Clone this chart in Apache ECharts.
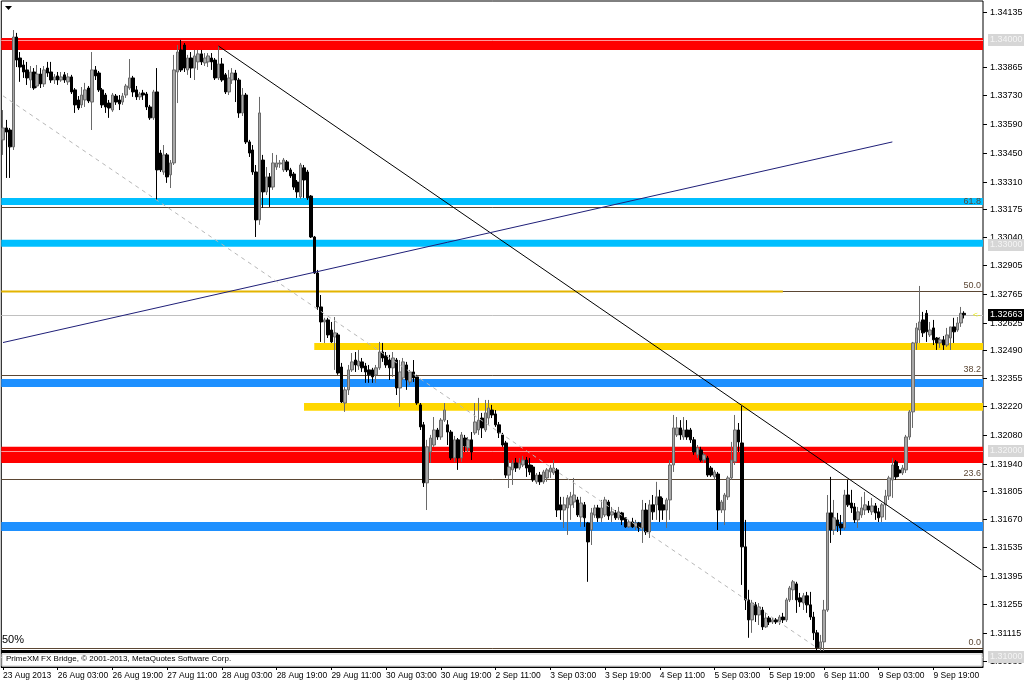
<!DOCTYPE html>
<html><head><meta charset="utf-8">
<script src="https://cdn.jsdelivr.net/npm/echarts@6/dist/echarts.min.js"></script>
<style>html,body{margin:0;padding:0;background:#fff}#c{width:1024px;height:682px}</style>
</head><body><div id="c"></div>
<script>
// ---- hourly candles (H1) ----
const openP = [
1.33513,1.33571,1.33561,1.33479,1.34013,1.33911,1.33877,1.33853,1.33804,1.33843,
1.33775,1.33833,1.33785,1.33862,1.33843,1.33804,1.33824,1.33804,1.33829,1.33795,
1.33819,1.33756,1.33707,1.33683,1.33707,1.33765,1.33697,1.33853,1.33838,1.33756,
1.33731,1.33692,1.33658,1.33726,1.33707,1.33697,1.33731,1.33765,1.33814,1.33756,
1.33722,1.33741,1.33736,1.33673,1.33620,1.33746,1.33449,1.33357,1.33440,1.33343,
1.33401,1.33843,1.33950,1.33974,1.33853,1.33911,1.33862,1.33892,1.33931,1.33887,
1.33892,1.33911,1.33901,1.33814,1.33882,1.33829,1.33746,1.33804,1.33838,1.33804,
1.33644,1.33731,1.33503,1.33464,1.33357,1.33124,1.33415,1.33260,1.33333,1.33284,
1.33381,1.33396,1.33367,1.33406,1.33367,1.33347,1.33308,1.33236,1.33377,1.33357,
1.33240,1.33041,1.32866,1.32701,1.32628,1.32638,1.32589,1.32555,1.32565,1.32409,
1.32234,1.32298,1.32395,1.32443,1.32414,1.32434,1.32414,1.32395,1.32395,1.32371,
1.32405,1.32482,1.32463,1.32443,1.32405,1.32443,1.32307,1.32356,1.32419,1.32336,
1.32385,1.32361,1.32225,1.32128,1.31846,1.31996,1.32030,1.32103,1.32069,1.32151,
1.32128,1.32093,1.31967,1.32055,1.31967,1.32064,1.32016,1.32055,1.32089,1.32103,
1.32161,1.32103,1.32161,1.32200,1.32181,1.32128,1.32079,1.32040,1.31884,1.31909,
1.31943,1.31918,1.31933,1.31957,1.31933,1.31923,1.31851,1.31884,1.31851,1.31870,
1.31899,1.31894,1.31909,1.31739,1.31714,1.31724,1.31739,1.31753,1.31763,1.31680,
1.31739,1.31651,1.31617,1.31690,1.31724,1.31676,1.31690,1.31753,1.31690,1.31700,
1.31676,1.31700,1.31676,1.31632,1.31656,1.31632,1.31651,1.31627,1.31714,1.31607,
1.31739,1.31739,1.31778,1.31739,1.31714,1.31763,1.31933,1.32079,1.32113,1.32069,
1.32103,1.32103,1.32055,1.31982,1.32006,1.31957,1.31967,1.31918,1.31875,1.31889,
1.31714,1.31714,1.31778,1.31870,1.31948,1.32103,1.32040,1.31535,1.31277,1.31180,
1.31253,1.31204,1.31228,1.31146,1.31189,1.31170,1.31180,1.31170,1.31194,1.31180,
1.31277,1.31326,1.31355,1.31287,1.31262,1.31297,1.31253,1.31194,1.31117,1.31044,
1.31073,1.31228,1.31700,1.31617,1.31666,1.31646,1.31627,1.31787,1.31748,1.31729,
1.31666,1.31690,1.31714,1.31734,1.31705,1.31734,1.31705,1.31680,1.31739,1.31782,
1.31860,1.31948,1.31909,1.31894,1.31909,1.32069,1.32191,1.32526,1.32589,1.32638,
1.32670,1.32565,1.32599,1.32550,1.32526,1.32541,1.32516,1.32550,1.32604,1.32589,
1.32623,1.32670];
const highP = [
1.33658,1.33610,1.33571,1.34047,1.34033,1.33940,1.33901,1.33892,1.33872,1.33862,
1.33877,1.33862,1.33872,1.33892,1.33892,1.33833,1.33843,1.33843,1.33843,1.33838,
1.33829,1.33765,1.33726,1.33770,1.33790,1.33775,1.33940,1.33872,1.33848,1.33765,
1.33741,1.33707,1.33741,1.33736,1.33731,1.33741,1.33785,1.33906,1.33824,1.33775,
1.33746,1.33756,1.33746,1.33683,1.33756,1.33862,1.33464,1.33488,1.33449,1.33415,
1.33926,1.33974,1.33999,1.33984,1.33926,1.33940,1.33950,1.33950,1.33950,1.33935,
1.33935,1.33935,1.33911,1.33969,1.33911,1.33838,1.33853,1.33862,1.33853,1.33814,
1.33765,1.33741,1.33513,1.33488,1.33391,1.33722,1.33440,1.33381,1.33352,1.33449,
1.33440,1.33415,1.33425,1.33415,1.33377,1.33357,1.33318,1.33401,1.33391,1.33367,
1.33245,1.33046,1.32881,1.32759,1.32648,1.32648,1.32628,1.32652,1.32575,1.32429,
1.32312,1.32419,1.32477,1.32482,1.32492,1.32453,1.32429,1.32419,1.32405,1.32419,
1.32531,1.32526,1.32482,1.32468,1.32482,1.32453,1.32443,1.32453,1.32434,1.32395,
1.32443,1.32371,1.32234,1.32142,1.32055,1.32079,1.32166,1.32113,1.32161,1.32234,
1.32151,1.32103,1.32074,1.32064,1.32093,1.32079,1.32069,1.32093,1.32234,1.32259,
1.32186,1.32249,1.32249,1.32225,1.32200,1.32142,1.32089,1.32050,1.31957,1.31957,
1.31967,1.31967,1.31977,1.31972,1.31967,1.31933,1.31894,1.31899,1.31909,1.31918,
1.31933,1.31957,1.31918,1.31778,1.31778,1.31787,1.31802,1.31870,1.31778,1.31778,
1.31753,1.31656,1.31724,1.31739,1.31739,1.31763,1.31778,1.31763,1.31729,1.31714,
1.31729,1.31705,1.31680,1.31666,1.31676,1.31666,1.31656,1.31763,1.31748,1.31763,
1.31787,1.31851,1.31812,1.31773,1.31773,1.31957,1.32176,1.32166,1.32151,1.32166,
1.32151,1.32113,1.32069,1.32030,1.32021,1.31991,1.31977,1.31928,1.31909,1.31899,
1.31763,1.31797,1.31880,1.32045,1.32176,1.32137,1.32220,1.31666,1.31326,1.31277,
1.31267,1.31262,1.31243,1.31214,1.31199,1.31189,1.31189,1.31204,1.31214,1.31287,
1.31345,1.31374,1.31365,1.31311,1.31311,1.31316,1.31316,1.31219,1.31131,1.31107,
1.31277,1.31787,1.31875,1.31763,1.31700,1.31690,1.31812,1.31860,1.31812,1.31748,
1.31729,1.31778,1.31802,1.31758,1.31773,1.31748,1.31724,1.31748,1.31812,1.31880,
1.31967,1.31957,1.31928,1.31933,1.32079,1.32200,1.32531,1.32623,1.32803,1.32677,
1.32686,1.32628,1.32638,1.32555,1.32555,1.32560,1.32599,1.32604,1.32648,1.32652,
1.32701,1.32680];
const lowP = [
1.33440,1.33328,1.33328,1.33464,1.33867,1.33795,1.33814,1.33780,1.33765,1.33756,
1.33765,1.33765,1.33770,1.33819,1.33790,1.33785,1.33780,1.33795,1.33790,1.33780,
1.33736,1.33644,1.33658,1.33668,1.33673,1.33692,1.33561,1.33804,1.33746,1.33668,
1.33644,1.33620,1.33649,1.33683,1.33658,1.33683,1.33717,1.33756,1.33722,1.33707,
1.33707,1.33707,1.33658,1.33610,1.33610,1.33221,1.33357,1.33343,1.33304,1.33279,
1.33391,1.33692,1.33843,1.33843,1.33829,1.33814,1.33804,1.33853,1.33877,1.33872,
1.33867,1.33853,1.33804,1.33804,1.33795,1.33736,1.33731,1.33785,1.33697,1.33620,
1.33629,1.33493,1.33430,1.33343,1.33041,1.33100,1.33182,1.33245,1.33187,1.33270,
1.33367,1.33377,1.33357,1.33357,1.33328,1.33270,1.33231,1.33226,1.33231,1.33221,
1.33036,1.32861,1.32686,1.32531,1.32526,1.32550,1.32526,1.32395,1.32371,1.32234,
1.32191,1.32273,1.32385,1.32385,1.32395,1.32385,1.32332,1.32332,1.32332,1.32332,
1.32395,1.32434,1.32405,1.32346,1.32361,1.32273,1.32215,1.32346,1.32298,1.32322,
1.32336,1.32225,1.32103,1.31826,1.31714,1.31943,1.32021,1.32055,1.32055,1.32142,
1.32030,1.31957,1.31948,1.31909,1.31948,1.31996,1.31996,1.31957,1.32079,1.32079,
1.32064,1.32093,1.32128,1.32161,1.32118,1.32064,1.32021,1.31870,1.31821,1.31836,
1.31899,1.31909,1.31923,1.31875,1.31884,1.31851,1.31841,1.31836,1.31841,1.31851,
1.31870,1.31884,1.31680,1.31666,1.31627,1.31593,1.31666,1.31724,1.31680,1.31632,
1.31632,1.31365,1.31544,1.31676,1.31656,1.31656,1.31680,1.31666,1.31656,1.31666,
1.31666,1.31641,1.31627,1.31627,1.31627,1.31617,1.31607,1.31554,1.31593,1.31578,
1.31666,1.31666,1.31656,1.31666,1.31627,1.31666,1.31899,1.32069,1.32055,1.32055,
1.32055,1.32040,1.31982,1.31967,1.31948,1.31943,1.31875,1.31875,1.31860,1.31617,
1.31700,1.31641,1.31763,1.31860,1.31933,1.31996,1.31350,1.31228,1.31093,1.31117,
1.31170,1.31155,1.31131,1.31141,1.31155,1.31160,1.31160,1.31155,1.31165,1.31170,
1.31267,1.31277,1.31214,1.31243,1.31228,1.31214,1.31180,1.31082,1.31029,1.31029,
1.31029,1.31219,1.31554,1.31593,1.31607,1.31593,1.31617,1.31729,1.31700,1.31651,
1.31627,1.31676,1.31690,1.31700,1.31690,1.31666,1.31656,1.31656,1.31666,1.31763,
1.31773,1.31860,1.31875,1.31884,1.31894,1.32055,1.32113,1.32492,1.32526,1.32555,
1.32531,1.32555,1.32516,1.32492,1.32502,1.32492,1.32507,1.32492,1.32526,1.32580,
1.32604,1.32645];
const closeP = [
1.33571,1.33551,1.33479,1.34013,1.33901,1.33867,1.33843,1.33814,1.33843,1.33765,
1.33833,1.33785,1.33853,1.33838,1.33804,1.33819,1.33804,1.33819,1.33804,1.33819,
1.33746,1.33683,1.33668,1.33731,1.33756,1.33702,1.33853,1.33824,1.33756,1.33683,
1.33673,1.33668,1.33731,1.33697,1.33688,1.33726,1.33775,1.33814,1.33746,1.33722,
1.33736,1.33731,1.33673,1.33620,1.33746,1.33367,1.33367,1.33440,1.33333,1.33401,
1.33853,1.33940,1.33853,1.33862,1.33911,1.33862,1.33921,1.33931,1.33892,1.33911,
1.33921,1.33892,1.33814,1.33882,1.33804,1.33746,1.33814,1.33838,1.33804,1.33644,
1.33731,1.33503,1.33449,1.33357,1.33124,1.33644,1.33260,1.33333,1.33284,1.33401,
1.33401,1.33401,1.33415,1.33367,1.33338,1.33284,1.33260,1.33391,1.33318,1.33231,
1.33041,1.32866,1.32701,1.32628,1.32638,1.32565,1.32531,1.32575,1.32380,1.32239,
1.32298,1.32395,1.32434,1.32419,1.32438,1.32405,1.32385,1.32371,1.32361,1.32405,
1.32482,1.32453,1.32419,1.32405,1.32453,1.32307,1.32385,1.32434,1.32346,1.32385,
1.32356,1.32234,1.32118,1.31846,1.32021,1.32064,1.32103,1.32069,1.32151,1.32200,
1.32093,1.31967,1.32055,1.31967,1.32079,1.32025,1.32055,1.31996,1.32142,1.32151,
1.32113,1.32186,1.32210,1.32176,1.32128,1.32089,1.32030,1.31884,1.31923,1.31943,
1.31918,1.31943,1.31957,1.31918,1.31899,1.31860,1.31884,1.31851,1.31899,1.31909,
1.31918,1.31918,1.31714,1.31714,1.31739,1.31773,1.31778,1.31787,1.31690,1.31748,
1.31676,1.31559,1.31700,1.31724,1.31676,1.31724,1.31763,1.31685,1.31705,1.31676,
1.31705,1.31666,1.31632,1.31656,1.31632,1.31651,1.31627,1.31714,1.31607,1.31739,
1.31705,1.31778,1.31714,1.31714,1.31763,1.31933,1.32113,1.32113,1.32079,1.32103,
1.32069,1.32055,1.31996,1.32016,1.31957,1.31982,1.31884,1.31884,1.31899,1.31714,
1.31753,1.31787,1.31870,1.31957,1.32103,1.32045,1.31535,1.31277,1.31180,1.31262,
1.31204,1.31243,1.31146,1.31189,1.31170,1.31180,1.31170,1.31194,1.31180,1.31277,
1.31335,1.31365,1.31277,1.31267,1.31297,1.31253,1.31194,1.31117,1.31044,1.31073,
1.31228,1.31700,1.31617,1.31676,1.31637,1.31627,1.31787,1.31739,1.31724,1.31666,
1.31705,1.31724,1.31739,1.31714,1.31734,1.31700,1.31676,1.31739,1.31782,1.31870,
1.31933,1.31875,1.31894,1.31918,1.32069,1.32191,1.32526,1.32599,1.32628,1.32575,
1.32580,1.32589,1.32541,1.32526,1.32541,1.32516,1.32565,1.32604,1.32580,1.32623,
1.32670,1.32663];

// time-axis ticks (bar index -> label), 16 hourly bars apart
const xTickIdx = [0,16,32,48,64,80,96,112,128,144,160,176,192,208,224,240,256,272];
const xTickLabels = ['23 Aug 2013','26 Aug 03:00','26 Aug 19:00','27 Aug 11:00','28 Aug 03:00',
  '28 Aug 19:00','29 Aug 11:00','30 Aug 03:00','30 Aug 19:00','2 Sep 11:00','3 Sep 03:00',
  '3 Sep 19:00','4 Sep 11:00','5 Sep 03:00','5 Sep 19:00','6 Sep 11:00','9 Sep 03:00','9 Sep 19:00'];
const slotCount = 287;          // bars + empty right shift
const priceMin = 1.30951, priceMax = 1.34188;

// price-scale tick labels on the right
const yTickValues = [1.34135,1.33865,1.33730,1.33590,1.33450,1.33310,1.33175,1.33040,1.32905,
  1.32765,1.32625,1.32490,1.32355,1.32220,1.32080,1.31940,1.31805,1.31670,1.31535,1.31395,
  1.31255,1.31115,1.30980];

// horizontal zones: [start bar (0 = left edge), low price, high price, colour key]
const zoneStart = [0, 0, 0, 91, 0, 88, 0, 0];
const zoneLow   = [1.33950,1.33197,1.32993,1.32492,1.32312,1.32196,1.31943,1.31612];
const zoneHigh  = [1.34008,1.33231,1.33027,1.32526,1.32351,1.32234,1.32021,1.31656];
const zoneKind  = ['red','cyan','cyan','gold','blue','gold','red','blue'];

// fibonacci levels
const fibNames  = ['0.0','23.6','38.2','50.0','61.8'];
const fibPrices = [1.31044,1.31865,1.32368,1.32779,1.33189];

// other horizontal lines: [start bar, end bar (-1 = right edge), price, kind]
const hLineStart = [0, 0, 0, 0, 0, 0];
const hLineEnd   = [-1, -1, 228, -1, -1, -1];
const hLinePrice = [1.34000, 1.32000, 1.32779, 1.32663, 1.31029, 1.31000];
const hLineKind  = ['round', 'round', 'goldline', 'bid', 'heavy', 'grey'];

// labelled round levels and the current bid
const roundLevels = [1.34000, 1.33000, 1.32000, 1.31000];
const bidPrice = 1.32663;

// trend lines: [bar, price] pairs
const trendDown  = [[63, 1.33969], [286, 1.31423]];
const trendUp    = [[0, 1.32528], [260, 1.33503]];
const fibBase    = [[0, 1.33727], [238, 1.31044]];

// ---------------------------------------------------------------
const FAM = '"Liberation Sans", Arial, sans-serif';
const FONT = '9px ' + FAM;
const zoneColors = {red:'#ff0000', cyan:'#00bfff', gold:'#ffd700', blue:'#1e90ff'};
const lineStyles = {
  round:{stroke:'#ff9a9a', w:1}, goldline:{stroke:'#e3b400', w:2},
  bid:{stroke:'#c0c0c0', w:1}, heavy:{stroke:'#000000', w:3}, grey:{stroke:'#d8d8d8', w:1},
  fib:{stroke:'#5b4633', w:1}
};

const cats = [];
for (let i = 0; i < slotCount; i++) cats.push(String(i));
const candleData = openP.map((o, i) => [o, closeP[i], lowP[i], highP[i]]);
const tickSet = new Set(xTickIdx);

const zoneData = zoneStart.map((s, i) => [s, zoneLow[i], zoneHigh[i], i]);
const lineData = hLineStart.map((s, i) => [s, hLinePrice[i], hLineEnd[i], i]);
const fibData = fibPrices.map((p, i) => [0, p, i]);

function zoneItem(params, api) {
  const cs = params.coordSys;
  const s = api.value(0);
  const x0 = s <= 0 ? cs.x : api.coord([s, api.value(1)])[0];
  const x1 = cs.x + cs.width;
  const yTop = api.coord([0, api.value(2)])[1];
  const yBot = api.coord([0, api.value(1)])[1];
  return {type:'rect', shape:{x:x0, y:yTop, width:x1 - x0, height:yBot - yTop},
    style:{fill: zoneColors[zoneKind[api.value(3)]]}};
}
function hLineItem(params, api) {
  const cs = params.coordSys;
  const s = api.value(0), e = api.value(2);
  const x0 = s <= 0 ? cs.x : api.coord([s, api.value(1)])[0];
  const x1 = e < 0 ? cs.x + cs.width : api.coord([e, api.value(1)])[0];
  const y = Math.round(api.coord([0, api.value(1)])[1]) + 0.5;
  const st = lineStyles[hLineKind[api.value(3)]];
  return {type:'line', shape:{x1:x0, y1:y, x2:x1, y2:y}, style:{stroke:st.stroke, lineWidth:st.w}};
}
function fibItem(params, api) {
  const cs = params.coordSys;
  const y = Math.round(api.coord([0, api.value(1)])[1]) + 0.5;
  const xr = cs.x + cs.width;
  return {type:'group', children:[
    {type:'line', shape:{x1:cs.x, y1:y, x2:xr, y2:y}, style:{stroke:lineStyles.fib.stroke, lineWidth:1}},
    {type:'text', style:{text:fibNames[api.value(2)], x:xr - 2, y:y - 1, align:'right',
      verticalAlign:'bottom', fill:'#5b4633', font:FONT}}
  ]};
}
function yLabelItem(params, api) {
  const cs = params.coordSys;
  const y = Math.round(api.coord([0, api.value(1)])[1]) + 0.5;
  const x = cs.x + cs.width;
  return {type:'group', children:[
    {type:'line', shape:{x1:x, y1:y, x2:x + 4, y2:y}, style:{stroke:'#000', lineWidth:1}},
    {type:'text', style:{text:api.value(1).toFixed(5), x:x + 7, y:y, align:'left',
      verticalAlign:'middle', fill:'#000', font:FONT}}
  ]};
}
function boxItem(params, api) {
  const cs = params.coordSys;
  const y = Math.round(api.coord([0, api.value(1)])[1]);
  const x = cs.x + cs.width + 1;
  const isBid = api.value(2) === 1;
  return {type:'group', children:[
    {type:'rect', shape:{x:x + 4, y:y - 6, width:1024 - x - 4, height:12},
      style:{fill: isBid ? '#000000' : '#d6d6d6'}},
    {type:'text', style:{text:api.value(1).toFixed(5), x:x + 6, y:y, align:'left',
      verticalAlign:'middle', fill: isBid ? '#ffffff' : '#f4f4f4', font:FONT}}
  ]};
}

const chart = echarts.init(document.getElementById('c'), null, {renderer:'canvas'});
chart.setOption({
  animation:false,
  backgroundColor:'#ffffff',
  grid:{left:1, top:1, right:41, bottom:15, show:true, borderColor:'#000', borderWidth:1, backgroundColor:'#fff'},
  xAxis:{
    type:'category', data:cats, boundaryGap:true,
    axisLine:{show:true, lineStyle:{color:'#000', width:1}},
    axisTick:{show:true, alignWithLabel:true, length:3, interval:(i) => tickSet.has(i), lineStyle:{color:'#000'}},
    axisLabel:{interval:(i) => tickSet.has(i), formatter:(v) => xTickLabels[xTickIdx.indexOf(Number(v))] || '',
      align:'left', margin:4, color:'#000', fontSize:8.5, fontFamily:FAM},
    splitLine:{show:false}
  },
  yAxis:{type:'value', position:'right', min:priceMin, max:priceMax, scale:true,
    axisLine:{show:false}, axisTick:{show:false}, axisLabel:{show:false}, splitLine:{show:false}},
  series:[
    {type:'custom', name:'zones', z:1, silent:true, renderItem:zoneItem, data:zoneData, encode:{x:0, y:1}},
    {type:'custom', name:'fibs', z:2, silent:true, renderItem:fibItem, data:fibData, encode:{x:0, y:1}},
    {type:'custom', name:'hlines', z:2, silent:true, renderItem:hLineItem, data:lineData, encode:{x:0, y:1}},
    {type:'candlestick', name:'H1', z:3, data:candleData, barWidth:3,
      itemStyle:{color:'#a8a8a8', color0:'#000000', borderColor:'#6a6a6a', borderColor0:'#000000', borderWidth:1}},
    {type:'line', z:4, silent:true, data:trendDown, showSymbol:false, lineStyle:{color:'#000', width:1}},
    {type:'line', z:4, silent:true, data:trendUp, showSymbol:false, lineStyle:{color:'#1f1f78', width:1}},
    {type:'line', z:4, silent:true, data:fibBase, showSymbol:false, lineStyle:{color:'#b8b8b8', width:1, type:[4,4]}},
    {type:'custom', name:'ylabels', z:5, silent:true, clip:false, renderItem:yLabelItem,
      data:yTickValues.map(v => [0, v]), encode:{x:0, y:1}},
    {type:'custom', name:'boxes', z:6, silent:true, clip:false, renderItem:boxItem,
      data:roundLevels.map(v => [0, v, 0]).concat([[0, bidPrice, 1]]), encode:{x:0, y:1}}
  ],
  graphic:[
    {type:'polygon', shape:{points:[[5,6],[12,6],[8.5,10]]}, style:{fill:'#000'}, z:10},
    {type:'text', left:2, top:634, style:{text:'50%', fill:'#000', font:'11px ' + FAM}, z:10},
    {type:'rect', shape:{x:2, y:654, width:980, height:12}, style:{fill:'#fff', stroke:'#c8c8c8', lineWidth:1}, z:10},
    {type:'text', left:6, top:655, style:{text:'PrimeXM FX Bridge, \u00a9 2001-2013, MetaQuotes Software Corp.', fill:'#000',
      font:'8px ' + FAM}, z:11},
    {type:'text', left:973, top:311, style:{text:'<-', fill:'#e8e800', font:'8px ' + FAM}, z:11}
  ]
});
</script>
</body></html>
